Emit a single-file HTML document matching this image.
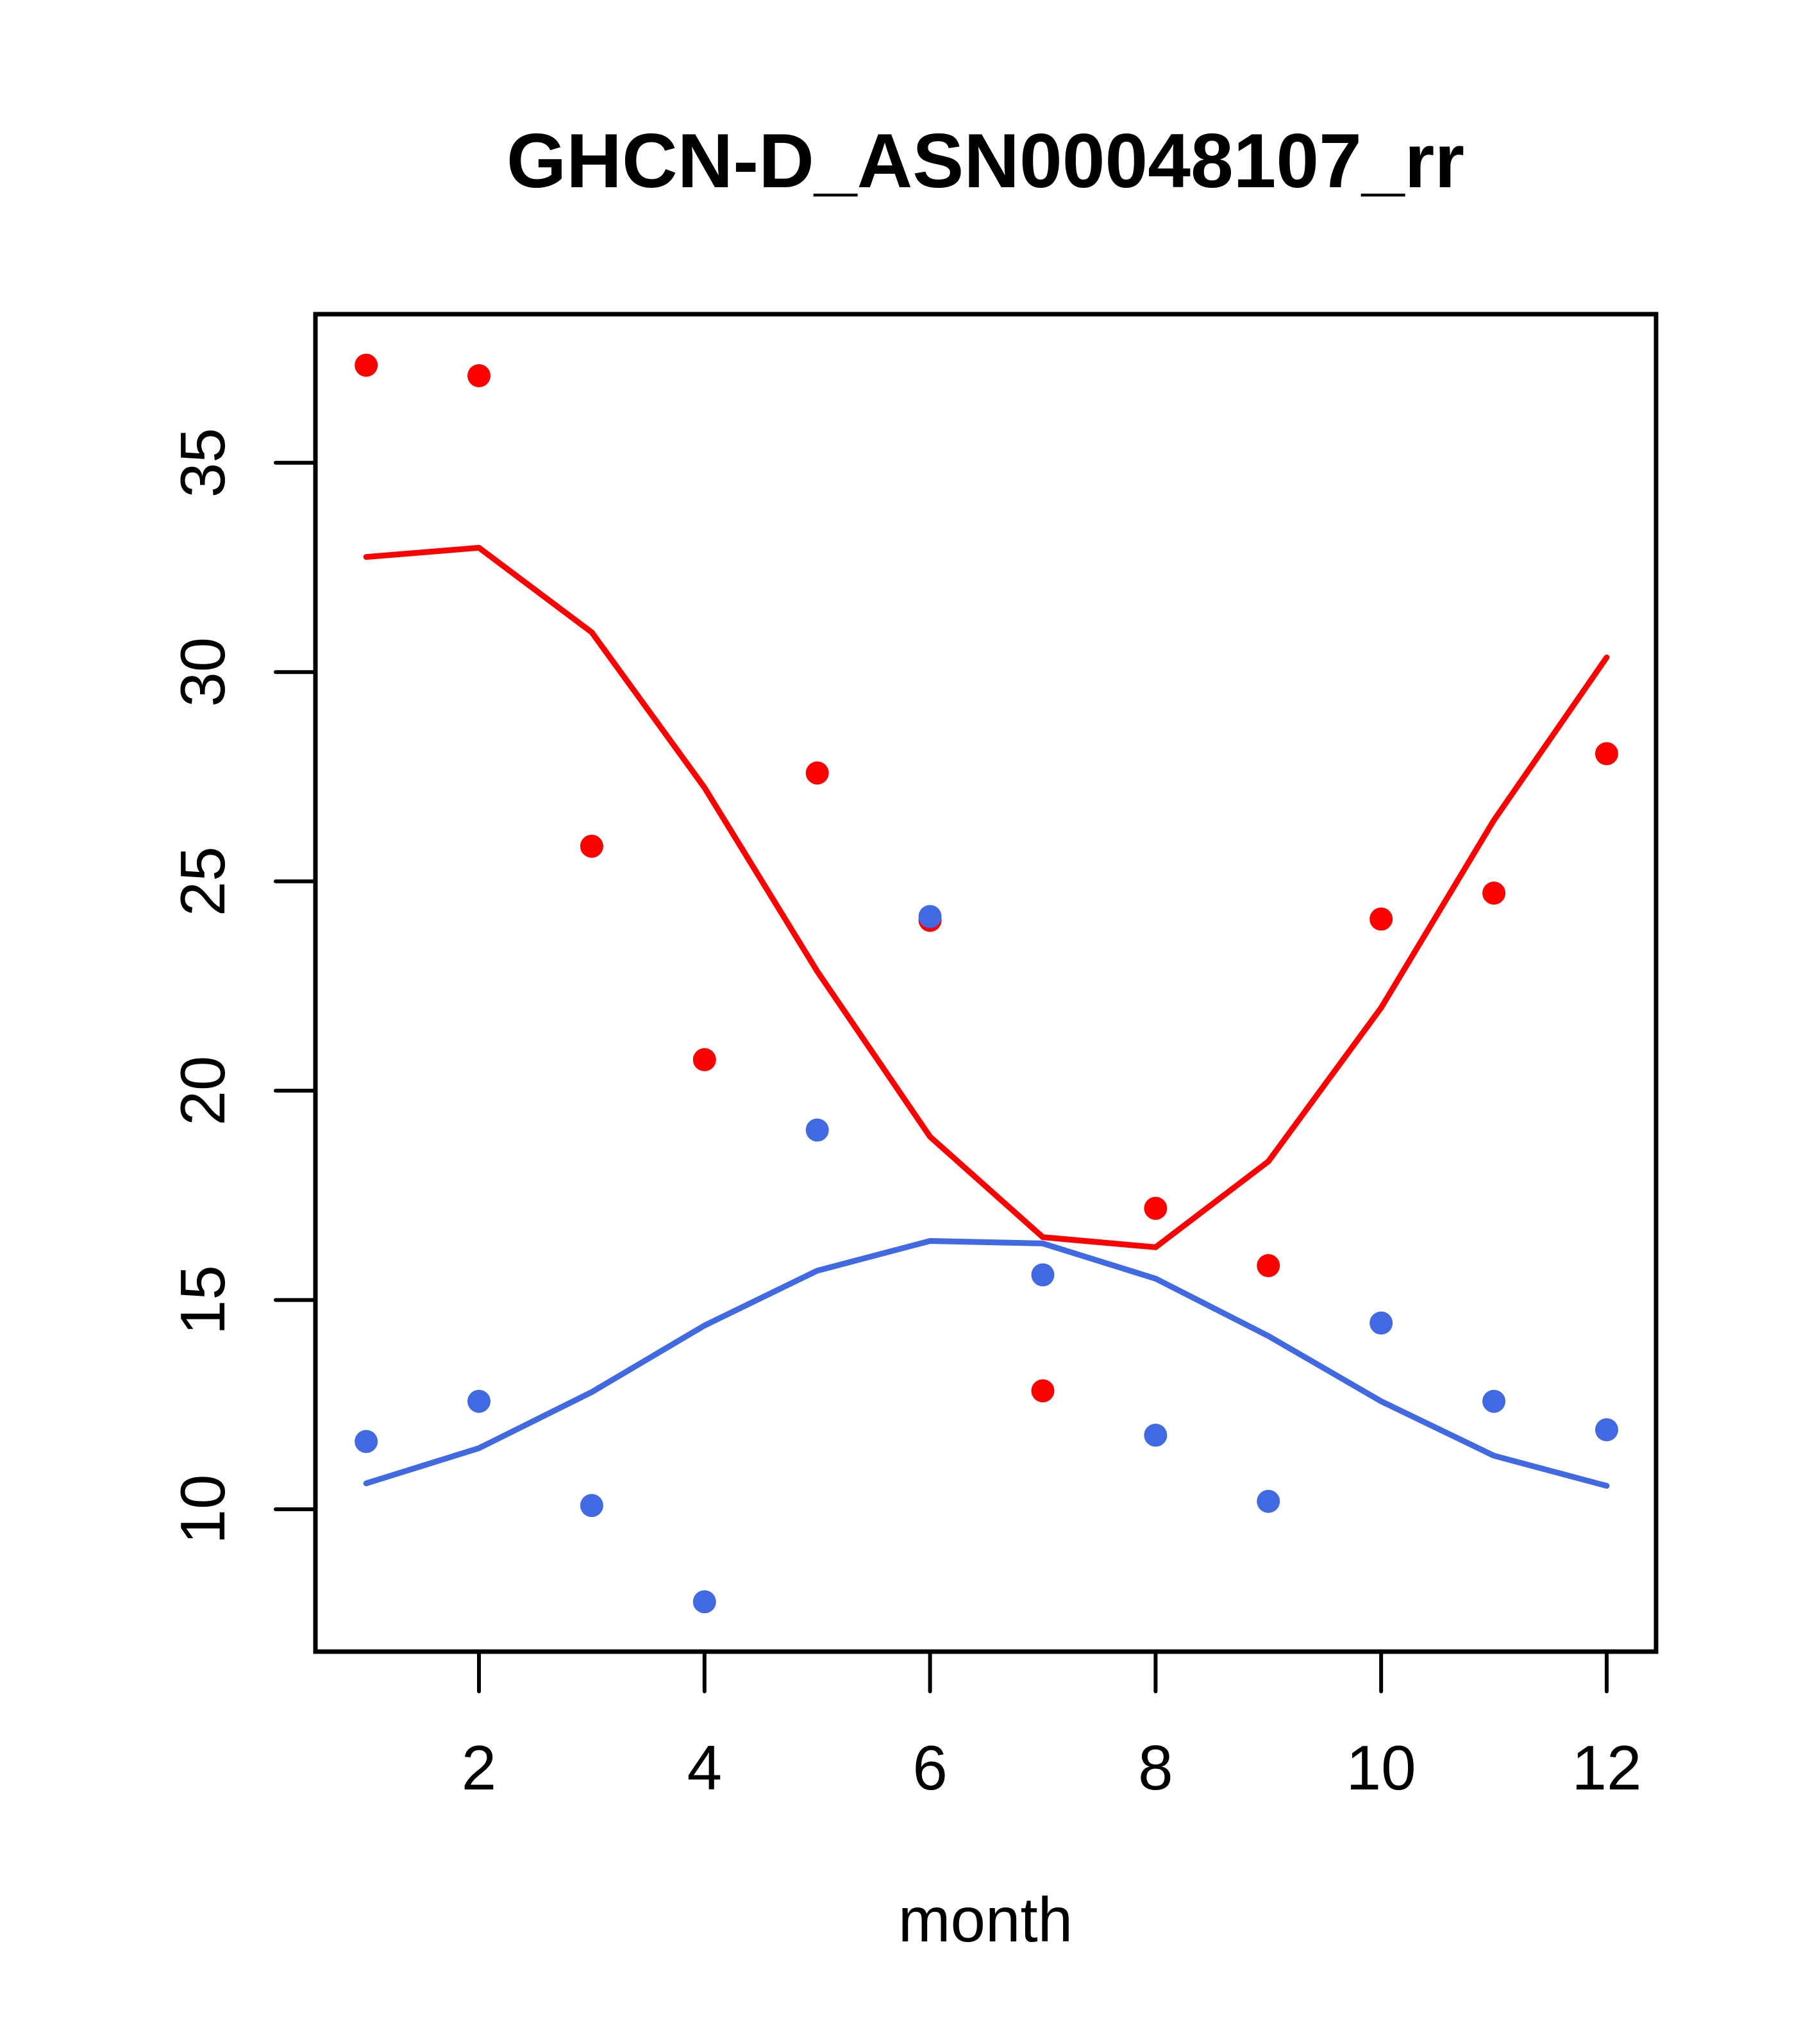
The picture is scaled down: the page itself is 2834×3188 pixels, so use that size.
<!DOCTYPE html>
<html><head><meta charset="utf-8"><style>html,body{margin:0;padding:0;background:#fff}svg{display:block}</style></head>
<body>
<svg id="chart" xmlns="http://www.w3.org/2000/svg" width="2834" height="3188" viewBox="0 0 2834 3188" font-family="Liberation Sans, sans-serif">
<rect width="2834" height="3188" fill="#fff"/>
<text x="1537" y="292" text-anchor="middle" font-size="120" font-weight="bold">GHCN-D_ASN00048107_rr</text>
<text x="1537" y="3028" text-anchor="middle" font-size="98">month</text>
<g id="plot"></g>
</svg>
<script>
const months = [1,2,3,4,5,6,7,8,9,10,11,12];
const redPoints = [37.33,37.08,25.84,20.74,27.59,24.07,12.83,17.19,15.82,24.10,24.72,28.05];
const redLine = [32.75,32.97,30.95,27.24,22.85,18.90,16.50,16.26,18.31,21.98,26.46,30.35];
const bluePoints = [11.62,12.58,10.09,7.79,19.06,24.16,15.60,11.77,10.19,14.45,12.58,11.90];
const blueLine = [10.62,11.46,12.80,14.39,15.70,16.41,16.35,15.51,14.14,12.58,11.28,10.56];
const xTicks = [2,4,6,8,10,12];
const yTicks = [10,15,20,25,30,35];

const L=492,R=2583,T=490,B=2576;
const xMin=0.55,xMax=12.438,yMin=6.60,yMax=38.55;
const sx=v=>L+(v-xMin)/(xMax-xMin)*(R-L);
const sy=v=>B-(v-yMin)/(yMax-yMin)*(B-T);
const NS='http://www.w3.org/2000/svg';
const g=document.getElementById('plot');
function mk(tag,attrs){const e=document.createElementNS(NS,tag);for(const k in attrs)e.setAttribute(k,attrs[k]);g.appendChild(e);return e;}

let box=mk('rect',{x:L,y:T,width:R-L,height:B-T,fill:'none',stroke:'#000','stroke-width':7});



xTicks.forEach(t=>{
  const x=sx(t);
  let l=mk('line',{x1:x,y1:B,x2:x,y2:B+62,stroke:'#000','stroke-width':6,'stroke-linecap':'round'});
  
  
  let tx=mk('text',{x:x,y:2791,'text-anchor':'middle','font-size':98});
  tx.textContent=t;
  
  
});
yTicks.forEach(t=>{
  const y=sy(t);
  let l=mk('line',{x1:L,y1:y,x2:L-62,y2:y,stroke:'#000','stroke-width':6,'stroke-linecap':'round'});
  
  
  let tx=mk('text',{x:0,y:0,'text-anchor':'middle','font-size':98,transform:`translate(350,${y}) rotate(-90)`});
  tx.textContent=t;
  
  
});

function line(vals,color,name){
  const p=mk('polyline',{points:vals.map((v,i)=>sx(months[i])+','+sy(v)).join(' '),fill:'none',stroke:color,'stroke-width':9,'stroke-linecap':'round','stroke-linejoin':'round'});
  
  
}
function pts(vals,color,name){
  vals.forEach((v,i)=>{
    const c=mk('circle',{cx:sx(months[i]),cy:sy(v),r:18,fill:color});
    
    
  });
}
line(redLine,'#ff0000','red-line');
pts(redPoints,'#ff0000','red-point');
line(blueLine,'#4169e1','blue-line');
pts(bluePoints,'#4169e1','blue-point');
</script>
</body></html>
